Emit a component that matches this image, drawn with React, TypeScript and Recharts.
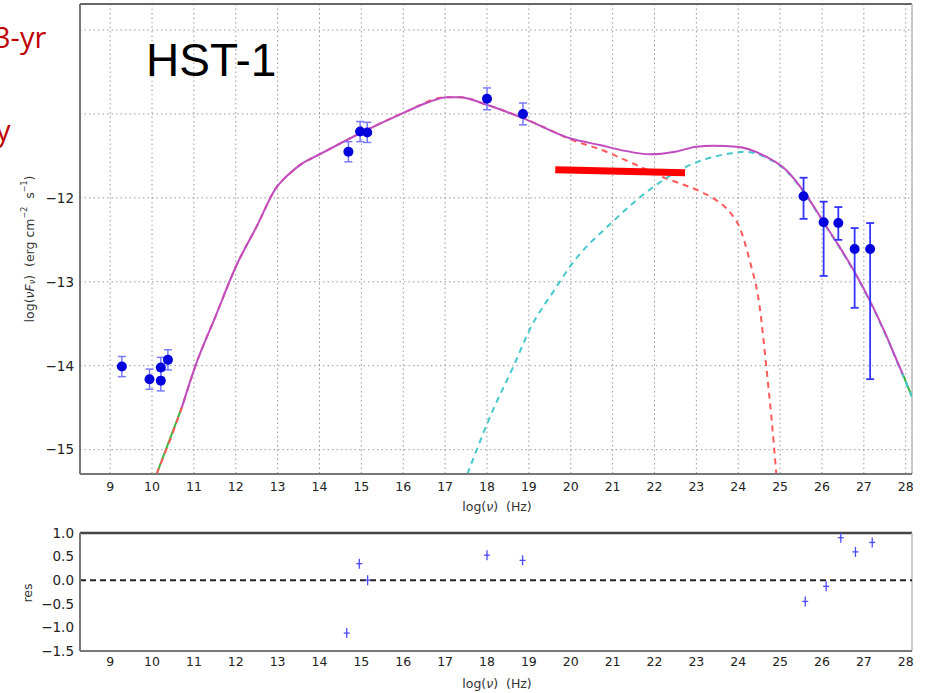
import React from 'react';
import {
  ComposedChart,
  Line,
  Scatter,
  XAxis,
  YAxis,
  CartesianGrid,
  ErrorBar,
  ReferenceLine,
} from 'recharts';

// ---------- data ----------
const X_TICKS = [9, 10, 11, 12, 13, 14, 15, 16, 17, 18, 19, 20, 21, 22, 23, 24, 25, 26, 27, 28];
const SED_Y_TICKS = [-15, -14, -13, -12, -11, -10];
const RES_Y_TICKS = [-1.5, -1, -0.5, 0, 0.5, 1];
const X_DOMAIN: [number, number] = [8.28, 28.15];
const SED_Y_DOMAIN: [number, number] = [-15.29, -9.69];
const RES_Y_DOMAIN: [number, number] = [-1.5, 1.0];

const radioOpticalXray = [
  { x: 9.28, y: -14.01, err: 0.12 },
  { x: 9.94, y: -14.16, err: 0.12 },
  { x: 10.21, y: -14.02, err: 0.12 },
  { x: 10.21, y: -14.18, err: 0.12 },
  { x: 10.38, y: -13.93, err: 0.12 },
  { x: 14.69, y: -11.45, err: 0.12 },
  { x: 14.97, y: -11.21, err: 0.12 },
  { x: 15.14, y: -11.22, err: 0.12 },
  { x: 18.0, y: -10.82, err: 0.13 },
  { x: 18.86, y: -11.0, err: 0.13 },
];

const gammaPoints = [
  { x: 25.56, y: -11.98, err: [0.27, 0.22] },
  { x: 26.04, y: -12.29, err: [0.64, 0.245] },
  { x: 26.39, y: -12.3, err: [0.2, 0.19] },
  { x: 26.78, y: -12.61, err: [0.7, 0.25] },
  { x: 27.15, y: -12.61, err: [1.55, 0.31] },
];

const totalModel = [
  { x: 10.71, y: -14.5 },
  { x: 11.03, y: -14.01 },
  { x: 11.51, y: -13.42 },
  { x: 12.02, y: -12.8 },
  { x: 12.5, y: -12.34 },
  { x: 12.98, y: -11.87 },
  { x: 13.1, y: -11.8 },
  { x: 13.22, y: -11.74 },
  { x: 13.53, y: -11.61 },
  { x: 14.01, y: -11.48 },
  { x: 14.97, y: -11.23 },
  { x: 15.99, y: -10.99 },
  { x: 16.6, y: -10.86 },
  { x: 17.04, y: -10.8 },
  { x: 17.35, y: -10.8 },
  { x: 17.99, y: -10.89 },
  { x: 18.86, y: -11.05 },
  { x: 19.98, y: -11.29 },
  { x: 20.69, y: -11.37 },
  { x: 21.3, y: -11.44 },
  { x: 21.89, y: -11.48 },
  { x: 22.5, y: -11.45 },
  { x: 23.0, y: -11.39 },
  { x: 23.4, y: -11.38 },
  { x: 23.96, y: -11.39 },
  { x: 24.67, y: -11.51 },
  { x: 25.15, y: -11.67 },
  { x: 25.59, y: -11.94 },
  { x: 26.04, y: -12.29 },
  { x: 26.39, y: -12.56 },
  { x: 26.8, y: -12.9 },
  { x: 27.15, y: -13.23 },
  { x: 27.5, y: -13.6 },
  { x: 27.85, y: -14.01 },
  { x: 27.93, y: -14.1 },
];

const synchrotron = [
  { x: 10.11, y: -15.29 },
  { x: 10.71, y: -14.5 },
  { x: 11.03, y: -14.01 },
  { x: 11.51, y: -13.42 },
  { x: 12.02, y: -12.8 },
  { x: 12.5, y: -12.34 },
  { x: 12.98, y: -11.87 },
  { x: 13.1, y: -11.8 },
  { x: 13.22, y: -11.74 },
  { x: 13.53, y: -11.61 },
  { x: 14.01, y: -11.48 },
  { x: 14.97, y: -11.23 },
  { x: 15.99, y: -10.99 },
  { x: 17.04, y: -10.8 },
  { x: 17.35, y: -10.8 },
  { x: 17.99, y: -10.89 },
  { x: 18.86, y: -11.05 },
  { x: 19.5, y: -11.19 },
  { x: 19.98, y: -11.3 },
  { x: 20.69, y: -11.42 },
  { x: 21.49, y: -11.59 },
  { x: 22.29, y: -11.77 },
  { x: 22.68, y: -11.84 },
  { x: 23.08, y: -11.92 },
  { x: 23.48, y: -12.03 },
  { x: 23.8, y: -12.17 },
  { x: 24.04, y: -12.36 },
  { x: 24.27, y: -12.74 },
  { x: 24.51, y: -13.29 },
  { x: 24.67, y: -14.01 },
  { x: 24.79, y: -14.6 },
  { x: 24.91, y: -15.29 },
];

const inverseCompton = [
  { x: 17.53, y: -15.29 },
  { x: 18.15, y: -14.52 },
  { x: 18.63, y: -14.01 },
  { x: 19.02, y: -13.57 },
  { x: 19.66, y: -13.06 },
  { x: 19.98, y: -12.82 },
  { x: 21.01, y: -12.28 },
  { x: 21.89, y: -11.9 },
  { x: 22.84, y: -11.61 },
  { x: 23.8, y: -11.47 },
  { x: 24.15, y: -11.45 },
  { x: 24.67, y: -11.52 },
  { x: 25.15, y: -11.68 },
  { x: 25.59, y: -11.95 },
  { x: 26.04, y: -12.3 },
  { x: 26.39, y: -12.57 },
  { x: 26.8, y: -12.91 },
  { x: 27.15, y: -13.24 },
  { x: 27.5, y: -13.61 },
  { x: 27.85, y: -14.02 },
  { x: 28.15, y: -14.37 },
];

const greenLow = [
  { x: 10.11, y: -15.29 },
  { x: 10.71, y: -14.5 },
];
const greenHigh = [
  { x: 27.93, y: -14.1 },
  { x: 28.15, y: -14.37 },
];

const redBand = [
  { x: 19.63, y: -11.665 },
  { x: 22.73, y: -11.7 },
];

const residuals = [
  { x: 14.65, y: -1.12 },
  { x: 14.95, y: 0.35 },
  { x: 15.15, y: 0.0 },
  { x: 18.0, y: 0.53 },
  { x: 18.85, y: 0.42 },
  { x: 25.6, y: -0.45 },
  { x: 26.1, y: -0.13 },
  { x: 26.45, y: 0.9 },
  { x: 26.8, y: 0.6 },
  { x: 27.2, y: 0.8 },
];

// ---------- helpers ----------
const X_TICK_FONT = { fill: '#222', fontSize: 12.5, fontFamily: 'DejaVu Sans' };
const Y_TICK_FONT = { fill: '#222', fontSize: 13.5, fontFamily: 'DejaVu Sans' };
const minus = (s: string) => s.replace('-', '\u2212');
const sedYFmt = (v: number) => (v <= -12 ? minus(String(v)) : '');
const resYFmt = (v: number) => minus(v.toFixed(1));

const BlueDot = (props: any) => {
  const { cx, cy } = props;
  if (cx == null || cy == null) return null;
  return <circle cx={cx} cy={cy} r={5} fill="#0000dd" />;
};

const PlusMark = (props: any) => {
  const { cx, cy } = props;
  if (cx == null || cy == null) return null;
  return (
    <g stroke="#4a4aff" strokeWidth={1.3}>
      <line x1={cx - 3} y1={cy} x2={cx + 3} y2={cy} />
      <line x1={cx} y1={cy - 5} x2={cx} y2={cy + 5} />
    </g>
  );
};

export default function App() {
  return (
    <div style={{ position: 'absolute', left: 0, top: 0, width: 926, height: 693, background: '#fff', overflow: 'hidden' }}>
      {/* SED panel */}
      <div style={{ position: 'absolute', left: 0, top: 0 }}>
        <ComposedChart width={926} height={520} margin={{ top: 4, right: 14, bottom: 6, left: 0 }}>
          <CartesianGrid stroke="#999" strokeDasharray="1.5 3" />
          <XAxis
            dataKey="x"
            type="number"
            domain={X_DOMAIN}
            ticks={X_TICKS}
            allowDataOverflow
            height={40}
            tickLine={false}
            tickSize={0}
            tickMargin={8}
            tick={X_TICK_FONT}
            axisLine={{ stroke: '#777', strokeWidth: 2 }}
          />
          <YAxis
            dataKey="y"
            type="number"
            domain={SED_Y_DOMAIN}
            ticks={SED_Y_TICKS}
            allowDataOverflow
            width={80}
            tickLine={false}
            tickSize={0}
            tickMargin={6}
            tick={Y_TICK_FONT}
            tickFormatter={sedYFmt}
            axisLine={{ stroke: '#777', strokeWidth: 2 }}
          />
          <ReferenceLine y={SED_Y_DOMAIN[1]} stroke="#666" strokeWidth={2} />
          <ReferenceLine x={X_DOMAIN[1]} stroke="#bbb" strokeWidth={1.5} />
          <Line data={greenLow} dataKey="y" type="linear" stroke="#3cb43c" strokeWidth={2} dot={false} isAnimationActive={false} />
          <Line data={greenHigh} dataKey="y" type="linear" stroke="#3cb43c" strokeWidth={2} dot={false} isAnimationActive={false} />
          <Line data={synchrotron} dataKey="y" type="monotone" stroke="#ff5a5a" strokeWidth={2} strokeDasharray="6 5" dot={false} isAnimationActive={false} />
          <Line data={inverseCompton} dataKey="y" type="monotone" stroke="#45c8cc" strokeWidth={2} strokeDasharray="6 5" dot={false} isAnimationActive={false} />
          <Line data={totalModel} dataKey="y" type="monotone" stroke="#c04cc0" strokeWidth={2} dot={false} isAnimationActive={false} />
          <Line data={redBand} dataKey="y" type="linear" stroke="#ff0000" strokeWidth={7} strokeLinecap="butt" dot={false} isAnimationActive={false} />
          <Scatter data={radioOpticalXray} dataKey="y" shape={BlueDot} isAnimationActive={false}>
            <ErrorBar dataKey="err" direction="y" width={4} stroke="#7878ff" strokeWidth={1.5} isAnimationActive={false} />
          </Scatter>
          <Scatter data={gammaPoints} dataKey="y" shape={BlueDot} isAnimationActive={false}>
            <ErrorBar dataKey="err" direction="y" width={4} stroke="#3434ff" strokeWidth={1.8} isAnimationActive={false} />
          </Scatter>
        </ComposedChart>
      </div>

      {/* Residual panel */}
      <div style={{ position: 'absolute', left: 0, top: 520 }}>
        <ComposedChart width={926} height={173} margin={{ top: 13, right: 14, bottom: 12, left: 0 }}>
          <XAxis
            dataKey="x"
            type="number"
            domain={X_DOMAIN}
            ticks={X_TICKS}
            allowDataOverflow
            height={30}
            tickLine={false}
            tickSize={0}
            tickMargin={6}
            tick={X_TICK_FONT}
            axisLine={{ stroke: '#777', strokeWidth: 2 }}
          />
          <YAxis
            dataKey="y"
            type="number"
            domain={RES_Y_DOMAIN}
            ticks={RES_Y_TICKS}
            allowDataOverflow
            width={80}
            tickLine={false}
            tickSize={0}
            tickMargin={6}
            tick={Y_TICK_FONT}
            tickFormatter={resYFmt}
            axisLine={{ stroke: '#777', strokeWidth: 2 }}
          />
          <ReferenceLine y={RES_Y_DOMAIN[1]} stroke="#444" strokeWidth={2.5} />
          <ReferenceLine x={X_DOMAIN[1]} stroke="#bbb" strokeWidth={1.5} />
          <ReferenceLine y={0} stroke="#222" strokeWidth={2} strokeDasharray="6 4" />
          <Scatter data={residuals} dataKey="y" shape={PlusMark} isAnimationActive={false} />
        </ComposedChart>
      </div>

      {/* Text overlay */}
      <svg width={926} height={693} style={{ position: 'absolute', left: 0, top: 0, pointerEvents: 'none' }}>
        <text x={-6} y={48} fill="#c00000" fontSize={29} fontFamily="Open Sans">3-yr</text>
        <text x={-4} y={141} fill="#c00000" fontSize={29} fontFamily="Open Sans">y</text>
        <text x={146} y={76} fill="#000" fontSize={46} fontFamily="Liberation Sans">HST-1</text>
        <text
          x={29}
          y={249}
          transform="rotate(-90 29 249)"
          textAnchor="middle"
          dominantBaseline="central"
          fontSize={12.5}
          fontFamily="DejaVu Sans"
          fill="#333"
          style={{ whiteSpace: 'pre' }}
        >
          log(<tspan fontStyle="italic">νF</tspan>
          <tspan fontSize={8} dy={3} fontStyle="italic">ν</tspan>
          <tspan dy={-3}>)  (erg cm</tspan>
          <tspan fontSize={8} dy={-5}>−2</tspan>
          <tspan dy={5}>  s</tspan>
          <tspan fontSize={8} dy={-5}>−1</tspan>
          <tspan dy={5}>)</tspan>
        </text>
        <text x={497} y={511} textAnchor="middle" fontSize={12.5} fontFamily="DejaVu Sans" fill="#333" style={{ whiteSpace: 'pre' }}>
          log(<tspan fontStyle="italic">ν</tspan>)  (Hz)
        </text>
        <text x={497} y={688} textAnchor="middle" fontSize={12.5} fontFamily="DejaVu Sans" fill="#333" style={{ whiteSpace: 'pre' }}>
          log(<tspan fontStyle="italic">ν</tspan>)  (Hz)
        </text>
        <text
          x={27}
          y={593}
          transform="rotate(-90 27 593)"
          textAnchor="middle"
          dominantBaseline="central"
          fontSize={12.5}
          fontFamily="DejaVu Sans"
          fill="#333"
        >
          res
        </text>
      </svg>
    </div>
  );
}
